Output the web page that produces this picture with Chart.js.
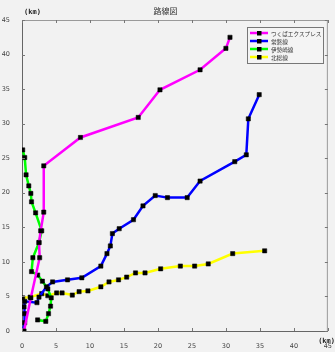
<!DOCTYPE html>
<html>
<head>
<meta charset="utf-8">
<script src="https://cdn.jsdelivr.net/npm/chart.js@4/dist/chart.umd.min.js"></script>
<style>
html,body{margin:0;padding:0;background:#f2f2f2;}
#wrap{width:335px;height:352px;}
</style>
</head>
<body>
<div id="wrap"><canvas id="c" width="335" height="352"></canvas></div>
<script>
// ---- data (km) ----
const seriesNames = ["つくばエクスプレス", "常磐線", "伊勢崎線", "北総線"];
const tsukubaX = [0.3, 1.3, 2.6, 2.5, 2.75, 3.2, 3.2, 8.6, 17.1, 20.3, 26.2, 30.0, 30.6];
const tsukubaY = [0.0, 4.8, 10.6, 12.8, 14.5, 17.2, 23.9, 28.0, 30.9, 34.9, 37.8, 40.9, 42.5];
const jobanX = [0.1, 0.4, 0.4, 0.3, 0.4, 2.2, 2.5, 3.6, 4.5, 6.7, 8.8, 11.6, 12.5, 13.0, 13.3, 14.3, 16.4, 17.8, 19.6, 21.4, 24.3, 26.2, 31.3, 33.0, 33.3, 34.9];
const jobanY = [0.0, 1.2, 2.5, 3.5, 4.3, 4.1, 4.9, 6.4, 7.1, 7.4, 7.7, 9.4, 11.2, 12.3, 14.1, 14.8, 16.1, 18.1, 19.6, 19.3, 19.3, 21.7, 24.5, 25.5, 30.7, 34.2];
const isesakiX = [0.1, 0.4, 0.6, 1.0, 1.3, 1.4, 2.0, 2.9, 2.5, 1.6, 1.4, 2.3, 3.0, 3.8, 4.3, 4.2, 3.9, 3.5, 2.3];
const isesakiY = [26.2, 25.1, 22.6, 21.0, 19.9, 18.7, 17.1, 14.5, 12.8, 10.6, 8.6, 8.1, 7.2, 6.1, 4.8, 3.6, 2.5, 1.4, 1.6];
const hokusoX = [0.1, 1.2, 2.9, 3.8, 5.1, 5.9, 7.4, 8.4, 9.7, 11.6, 12.8, 14.2, 15.4, 16.7, 18.1, 20.4, 23.3, 25.4, 27.4, 31.0, 35.7];
const hokusoY = [4.8, 4.9, 5.4, 5.1, 5.5, 5.5, 5.2, 5.7, 5.8, 6.4, 7.1, 7.4, 7.8, 8.4, 8.4, 9.0, 9.4, 9.4, 9.7, 11.2, 11.6];
const xTicks = [0, 5, 10, 15, 20, 25, 30, 35, 40, 45];
const yTicks = [0, 5, 10, 15, 20, 25, 30, 35, 40, 45];
const titleText = "路線図";
const axisUnit = "(km)";

const colors = ["#ff00ff", "#0000ff", "#00ff00", "#ffff00"];
function pts(xs, ys){ return xs.map((x,i)=>({x:x, y:ys[i]})); }
const allX = [tsukubaX, jobanX, isesakiX, hokusoX];
const allY = [tsukubaY, jobanY, isesakiY, hokusoY];

const datasets = seriesNames.map((n,i)=>({
  label: n,
  data: pts(allX[i], allY[i]),
  showLine: true,
  borderColor: colors[i],
  borderWidth: 2.5,
  pointStyle: 'rect',
  pointRadius: 3,
  pointBackgroundColor: '#000',
  pointBorderColor: '#000',
  pointBorderWidth: 0.5,
  tension: 0
}));

const extras = {
  id: 'extras',
  afterDraw(chart){
    const ctx = chart.ctx, a = chart.chartArea;
    const xs = chart.scales.x, ys = chart.scales.y;
    ctx.save();
    // frame top / right
    ctx.strokeStyle = '#9a9a9a'; ctx.lineWidth = 1;
    ctx.beginPath();
    ctx.moveTo(a.left, a.top+0.5); ctx.lineTo(a.right-0.5, a.top+0.5); ctx.lineTo(a.right-0.5, a.bottom);
    ctx.stroke();
    // inward ticks
    ctx.strokeStyle = '#777';
    ctx.beginPath();
    xTicks.forEach(v=>{
      const px = Math.round(xs.getPixelForValue(v))+0.5;
      ctx.moveTo(px, a.bottom); ctx.lineTo(px, a.bottom-3);
      ctx.moveTo(px, a.top); ctx.lineTo(px, a.top+3);
    });
    yTicks.forEach(v=>{
      const py = Math.round(ys.getPixelForValue(v))+0.5;
      ctx.moveTo(a.left, py); ctx.lineTo(a.left+3, py);
      ctx.moveTo(a.right, py); ctx.lineTo(a.right-3, py);
    });
    ctx.stroke();
    // axis unit labels
    ctx.fillStyle = '#222';
    ctx.font = 'bold 7px "DejaVu Sans Mono", monospace';
    ctx.textBaseline = 'middle';
    ctx.textAlign = 'left';
    ctx.fillText(axisUnit, 24, 12);
    ctx.textAlign = 'right';
    ctx.fillText(axisUnit, 335, 341);
    // legend
    const lx = 247, ly = 27, lw = 76, lh = 36;
    ctx.fillStyle = '#f4f4f4';
    ctx.fillRect(lx, ly, lw, lh);
    ctx.strokeStyle = '#777'; ctx.lineWidth = 1;
    ctx.strokeRect(lx+0.5, ly+0.5, lw, lh);
    ctx.font = '5.6px "Noto Sans CJK JP", sans-serif';
    ctx.textAlign = 'left';
    chart.data.datasets.forEach((d,i)=>{
      const yy = ly + 6 + i*8;
      ctx.strokeStyle = d.borderColor; ctx.lineWidth = 2.5;
      ctx.beginPath(); ctx.moveTo(lx+3, yy); ctx.lineTo(lx+21, yy); ctx.stroke();
      ctx.fillStyle = '#000';
      ctx.fillRect(lx+10, yy-2, 4.5, 4.5);
      ctx.fillStyle = '#333';
      ctx.fillText(d.label, lx+24, yy+0.5);
    });
    ctx.restore();
  }
};

new Chart(document.getElementById('c'), {
  type: 'scatter',
  data: { datasets: datasets },
  plugins: [extras],
  options: {
    responsive: false,
    animation: false,
    devicePixelRatio: 1,
    layout: { padding: { left: 0, right: 4, top: 0, bottom: 0 } },
    plugins: {
      legend: { display: false },
      tooltip: { enabled: false },
      title: {
        display: true, text: titleText, color: '#333',
        font: { family: '"Noto Sans CJK JP", sans-serif', size: 8, weight: 'normal' },
        padding: { top: 6, bottom: 4.4 }
      }
    },
    scales: {
      x: {
        type: 'linear', min: 0, max: 45,
        afterFit(s){ s.height = 21; },
        afterBuildTicks(s){ s.ticks = xTicks.map(v=>({value:v})); },
        grid: { display: false },
        border: { display: true, color: '#666', width: 1 },
        ticks: { color: '#444', padding: 3, font: { family: 'DejaVu Sans', size: 6.5 }, maxRotation: 0 }
      },
      y: {
        type: 'linear', min: 0, max: 45,
        afterFit(s){ s.width = 22; },
        afterBuildTicks(s){ s.ticks = yTicks.map(v=>({value:v})); },
        grid: { display: false },
        border: { display: true, color: '#666', width: 1 },
        ticks: { color: '#444', padding: 4, font: { family: 'DejaVu Sans', size: 6.5 } }
      }
    }
  }
});
</script>
</body>
</html>
